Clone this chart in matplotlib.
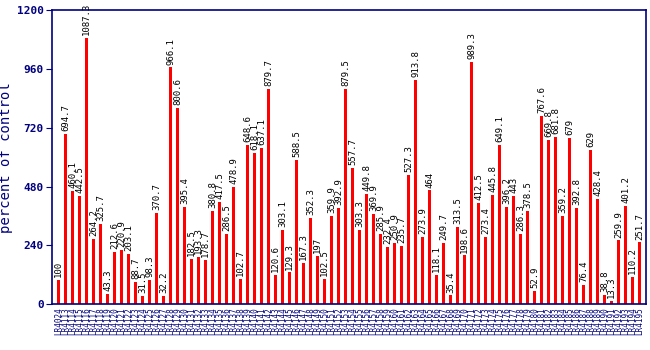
import numpy as np
import matplotlib
matplotlib.use('Agg')
import matplotlib.pyplot as plt

# identifiants des lignées (axe x)
lines = ['LR4024'] + ['LR4%03d' % n for n in range(113, 196)]

# pourcentage par rapport au contrôle
values = [100, 694.7, 460.1, 442.5, 1087.3, 264.2, 325.7, 43.3, 212.6, 220.9,
          203.1, 88.7, 31.5, 98.3, 370.7, 32.2, 966.1, 800.6, 395.4, 182.5,
          193.3, 178.7, 380.8, 417.5, 286.5, 478.9, 102.7, 648.6, 618.1, 637.1,
          879.7, 120.6, 303.1, 129.3, 588.5, 167.3, 352.3, 197, 102.5, 359.9,
          392.9, 879.5, 557.7, 303.3, 449.8, 369.9, 285.9, 232.4, 250.9, 235.7,
          527.3, 913.8, 273.9, 464, 118.1, 249.7, 35.4, 313.5, 198.6, 989.3,
          412.5, 273.4, 445.8, 649.1, 396.2, 443, 286.3, 378.5, 52.9, 767.6,
          669.8, 681.8, 359.2, 679, 392.8, 76.4, 629, 428.4, 38.8, 13.3,
          259.9, 401.2, 110.2, 251.7]

yticks = [0, 240, 480, 720, 960, 1200]

navy = '#000080'
mono = 'DejaVu Sans Mono'

fig = plt.figure(figsize=(6.5, 3.5), dpi=100)
ax = fig.add_axes([0.08, 0.131, 0.914, 0.84])

x = np.arange(len(values))
ax.bar(x, values, width=0.45, color='#ff0000', zorder=2)

# valeur au-dessus de chaque barre
for xi, v in zip(x, values):
    ax.text(xi, v + 12, f'{v:g}', rotation=90, ha='center', va='bottom',
            fontsize=6.5, family=mono, color='black')

ax.set_xlim(-0.93, len(values) - 0.07)
ax.set_ylim(0, 1200)
ax.set_yticks(yticks)
ax.set_yticklabels([str(t) for t in yticks], family=mono, fontweight='bold',
                   fontsize=8, color=navy)
ax.set_xticks(x)
ax.set_xticklabels(lines, rotation=90, family=mono, fontsize=5.5, color=navy)
ax.tick_params(axis='x', length=0, pad=2)
ax.tick_params(axis='y', length=4, color=navy, pad=2)
ax.set_ylabel('percent of control', family=mono, fontsize=10, color=navy)
ax.yaxis.set_label_coords(-0.065, 0.5)

for s in ax.spines.values():
    s.set_color(navy)
    s.set_linewidth(1.2)

fig.savefig('out.png', dpi=100)
